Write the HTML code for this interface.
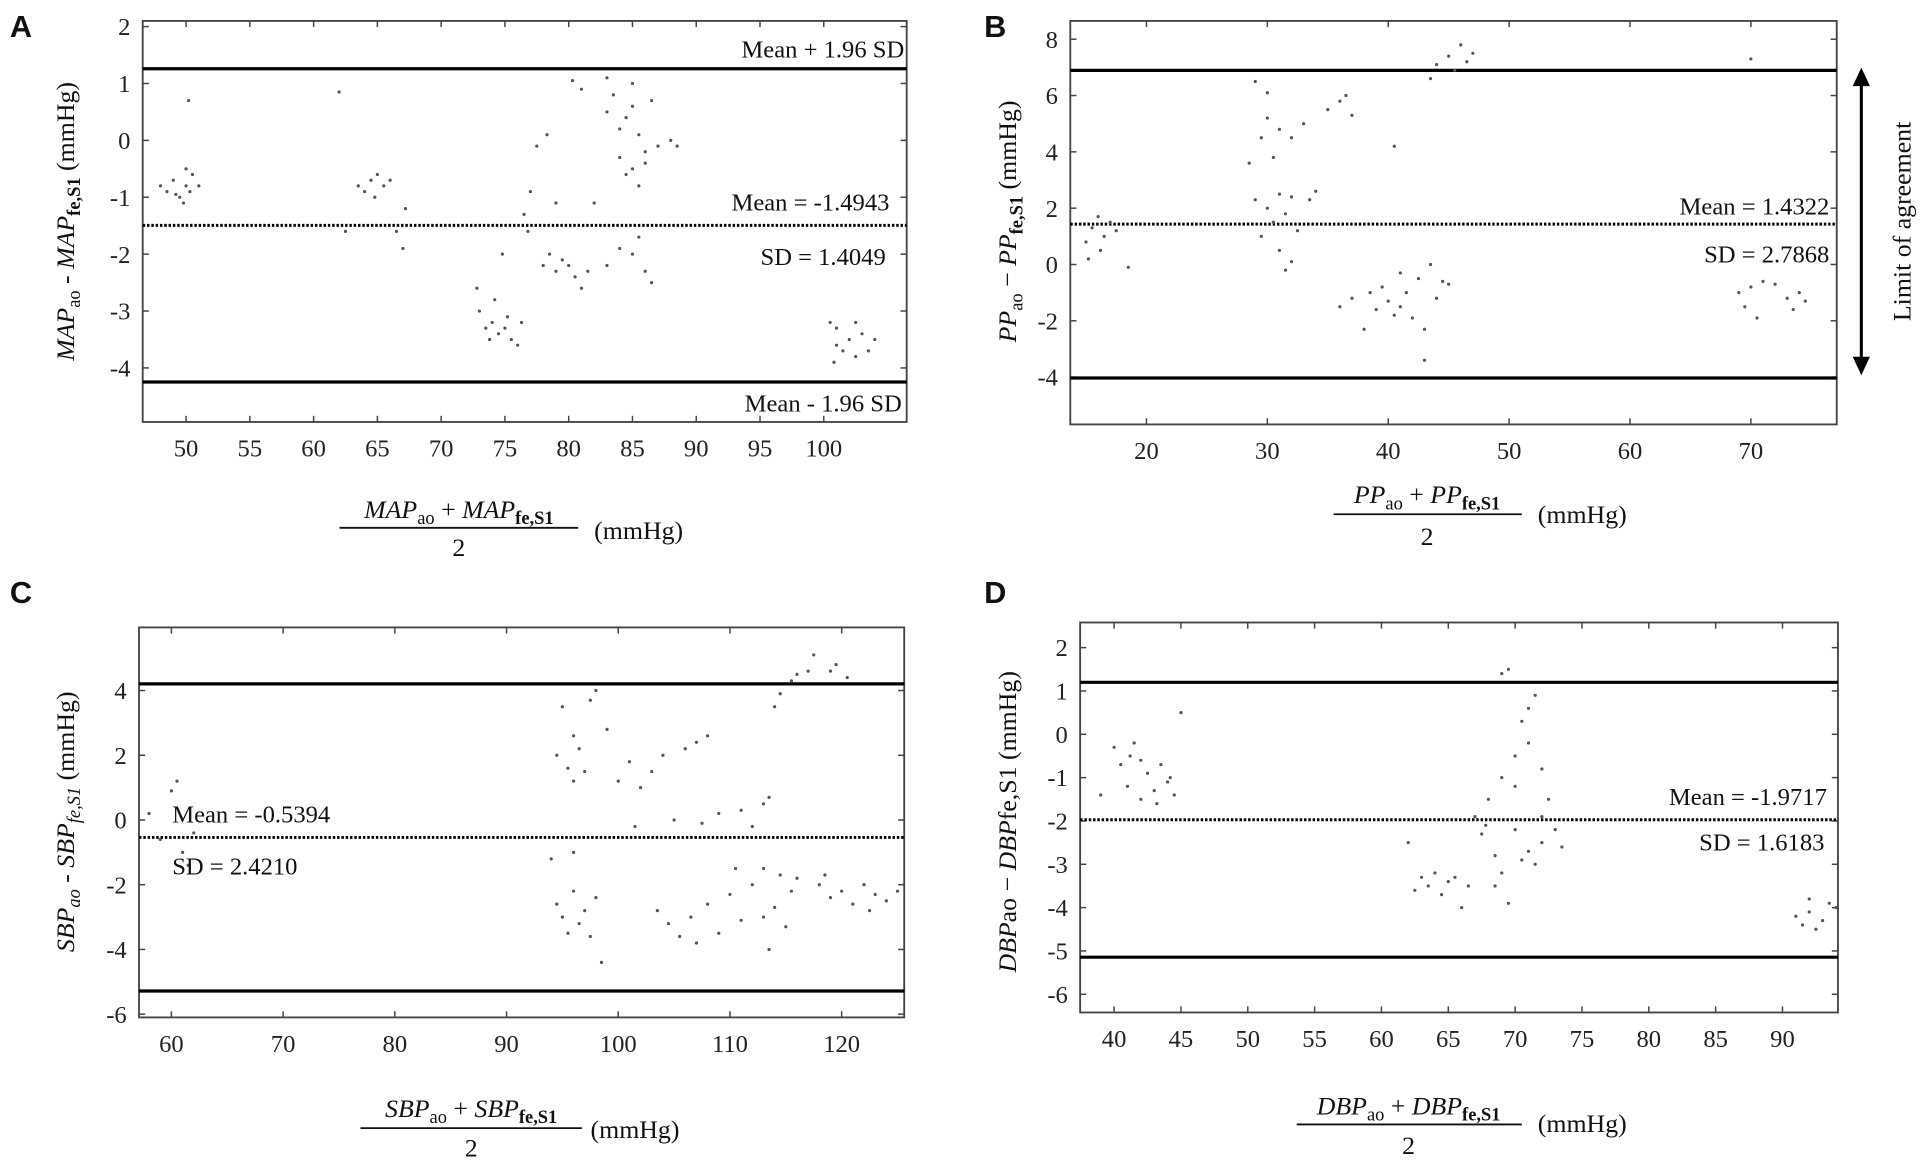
<!DOCTYPE html>
<html><head><meta charset="utf-8">
<style>
html,body{margin:0;padding:0;background:#fff;}
svg{display:block;}
.tk{font-family:"Liberation Serif",serif;font-size:20px;fill:#222;}
.ann{font-family:"Liberation Serif",serif;font-size:20px;fill:#111;}
.lab{font-family:"Liberation Serif",serif;font-size:21px;fill:#111;}
.pl{font-family:"Liberation Sans",sans-serif;font-size:25px;font-weight:bold;fill:#111;}
</style></head>
<body>
<svg id="fig" width="1929" height="1167" viewBox="0 0 1568 948.6" preserveAspectRatio="none" xmlns="http://www.w3.org/2000/svg">
<g id="static">
<text class="pl" x="8" y="30">A</text>
<text class="pl" x="800" y="30">B</text>
<text class="pl" x="8" y="490">C</text>
<text class="pl" x="800" y="490">D</text>

<text class="lab" transform="translate(60,180) rotate(-90)" text-anchor="middle"><tspan font-style="italic">MAP</tspan><tspan font-size="15" dy="5">ao</tspan><tspan dy="-5"> - </tspan><tspan font-style="italic">MAP</tspan><tspan font-size="15" dy="5" font-weight="bold">fe,S1</tspan><tspan dy="-5"> (mmHg)</tspan></text>
<text class="lab" transform="translate(826,180) rotate(-90)" text-anchor="middle"><tspan font-style="italic">PP</tspan><tspan font-size="15" dy="5">ao</tspan><tspan dy="-5"> − </tspan><tspan font-style="italic">PP</tspan><tspan font-size="15" dy="5" font-weight="bold">fe,S1</tspan><tspan dy="-5"> (mmHg)</tspan></text>
<text class="lab" transform="translate(60,668) rotate(-90)" text-anchor="middle"><tspan font-style="italic">SBP</tspan><tspan font-size="15" dy="5" font-style="italic">ao</tspan><tspan dy="-5"> - </tspan><tspan font-style="italic">SBP</tspan><tspan font-size="15" dy="5" font-style="italic">fe,S1</tspan><tspan dy="-5"> (mmHg)</tspan></text>
<text class="lab" transform="translate(826,668) rotate(-90)" text-anchor="middle"><tspan font-style="italic">DBP</tspan><tspan>ao − </tspan><tspan font-style="italic">DBP</tspan><tspan>fe,S1 (mmHg)</tspan></text>

<g>
<text class="lab" x="373" y="421" text-anchor="middle" font-size="22"><tspan font-style="italic">MAP</tspan><tspan font-size="15" dy="5">ao</tspan><tspan dy="-5"> + </tspan><tspan font-style="italic">MAP</tspan><tspan font-size="15" dy="5" font-weight="bold">fe,S1</tspan></text>
<line x1="276" y1="429" x2="470" y2="429" stroke="#111" stroke-width="1.5"/>
<text class="lab" x="373" y="452" text-anchor="middle">2</text>
<text class="lab" x="483" y="438">(mmHg)</text></g>
<g>
<text class="lab" x="1160" y="409" text-anchor="middle" font-size="22"><tspan font-style="italic">PP</tspan><tspan font-size="15" dy="5">ao</tspan><tspan dy="-5"> + </tspan><tspan font-style="italic">PP</tspan><tspan font-size="15" dy="5" font-weight="bold">fe,S1</tspan></text>
<line x1="1084" y1="418" x2="1237" y2="418" stroke="#111" stroke-width="1.5"/>
<text class="lab" x="1160" y="443" text-anchor="middle">2</text>
<text class="lab" x="1250" y="425">(mmHg)</text></g>
<g>
<text class="lab" x="383" y="908" text-anchor="middle" font-size="22"><tspan font-style="italic">SBP</tspan><tspan font-size="15" dy="5">ao</tspan><tspan dy="-5"> + </tspan><tspan font-style="italic">SBP</tspan><tspan font-size="15" dy="5" font-weight="bold">fe,S1</tspan></text>
<line x1="293" y1="917" x2="473" y2="917" stroke="#111" stroke-width="1.5"/>
<text class="lab" x="383" y="940" text-anchor="middle">2</text>
<text class="lab" x="480" y="925">(mmHg)</text></g>
<g>
<text class="lab" x="1145" y="906" text-anchor="middle" font-size="22"><tspan font-style="italic">DBP</tspan><tspan font-size="15" dy="5">ao</tspan><tspan dy="-5"> + </tspan><tspan font-style="italic">DBP</tspan><tspan font-size="15" dy="5" font-weight="bold">fe,S1</tspan></text>
<line x1="1054" y1="914" x2="1237" y2="914" stroke="#111" stroke-width="1.5"/>
<text class="lab" x="1145" y="938" text-anchor="middle">2</text>
<text class="lab" x="1250" y="920">(mmHg)</text></g>

<g>
<line x1="1513" y1="66" x2="1513" y2="294" stroke="#000" stroke-width="2.5"/>
<polygon points="1513,55 1506,70 1520,70" fill="#000"/>
<polygon points="1513,305 1506,290 1520,290" fill="#000"/>
<text class="lab" transform="translate(1553,180) rotate(-90)" text-anchor="middle">Limit of agreement</text>
</g>
</g>
</svg>
<script>
// Panel A data
const aX=[48.5,49,49.5,50,50,50.5,49.8,50.3,51,50.2,48,49.2,62,62.5,63.5,64,64.5,65,65.5,66,64.8,66.5,67,67.2,72.8,73,73.5,74,74.5,75,75.5,76,74.2,75.2,73.8,74.8,76.3,76.5,77,77.5,76.8,78,78.5,79,79.5,80,80.5,81,81.5,79,78.3,80.3,81,82,83,83.5,84,84.5,85,85.5,86,84,85,86,87,88,88.5,83,85,86.5,84.5,85.5,83,84,85,86,86.5,85.5,100.5,101,101.5,102,102.5,103,103.5,101,102.5,104,100.8];
const aY=[-0.9,-0.7,-1.0,-0.5,-0.8,-0.6,-1.1,-0.9,-0.8,0.7,-0.8,-0.95,0.85,-1.6,-0.8,-0.9,-0.7,-0.6,-0.8,-0.7,-1.0,-1.6,-1.9,-1.2,-2.6,-3.0,-3.3,-3.2,-3.4,-3.3,-3.5,-3.6,-2.8,-3.1,-3.5,-2.0,-3.2,-1.3,-0.9,-0.1,-1.6,-2.2,-2.0,-2.3,-2.1,-2.2,-2.4,-2.6,-2.3,-1.1,0.1,1.05,0.9,-1.1,0.5,0.8,0.2,0.4,0.6,0.1,-0.2,-0.3,-0.5,-0.4,-0.1,0.0,-0.1,1.1,1.0,0.7,-0.6,-0.8,-2.2,-1.9,-2.0,-2.3,-2.5,-1.7,-3.2,-3.6,-3.7,-3.5,-3.8,-3.4,-3.7,-3.3,-3.2,-3.5,-3.9];
const aXTicks=[50,55,60,65,70,75,80,85,90,95,100];
const aYTicks=[2,1,0,-1,-2,-3,-4];
const aStats=[-1.4943,1.4049];
// Panel B data
const bX=[15,15.5,16,16.5,17,15.2,16.2,17.5,18.5,28.5,29,29.5,30,30.5,29,30,30.5,31,31.5,32,31,31.5,32,32.5,31,32,33,33.5,34,30,29.5,35,36,37,36.5,36,37,38,38.5,39,39.5,40,40.5,41,41.5,42,42.5,43,43.5,44,44.5,45,43,40.5,41,43.5,44,45,46,46.5,47,45.5,69,69.5,70,70.5,71,72,73,73.5,74,74.5,70];
const bY=[0.8,1.3,1.7,1.0,1.5,0.2,0.5,1.2,-0.1,3.6,6.5,4.5,5.2,3.8,2.3,2.0,1.5,2.5,1.8,2.4,0.5,-0.2,0.1,1.2,4.8,4.5,5.0,2.3,2.6,6.1,1.0,5.5,5.8,5.3,6.0,-1.5,-1.2,-2.3,-1.0,-1.6,-0.8,-1.3,-1.8,-1.5,-1.0,-1.9,-0.5,-2.3,0.0,-1.2,-0.6,-0.7,-3.4,4.2,-0.3,6.6,7.1,7.4,7.8,7.2,7.5,6.9,-1.0,-1.5,-0.8,-1.9,-0.6,-0.7,-1.2,-1.6,-1.0,-1.3,7.3];
const bXTicks=[20,30,40,50,60,70];
const bYTicks=[8,6,4,2,0,-2,-4];
const bStats=[1.4322,2.7868];
// Panel C data
const cX=[58,59,60,60.5,61,61.5,62,94.5,95.5,96,96.5,97,97.5,98,95,96,94.5,95,95.5,96,96.5,97,97.5,98,98.5,96,94,99,100,101,102,103,101.5,104,105,106,107,108,107.5,109,111,112,113,113.5,114,114.5,103.5,104.5,105.5,106.5,107,108,109,110,110.5,111,112,113,113.5,114,114.5,115,115.5,116,113,115.5,116,117,117.5,119,119.5,120.5,118,119,120,121,122,122.5,123,124,125,126,118.5];
const cY=[0.2,-0.6,0.9,1.2,-1.0,-1.4,-0.4,2.0,1.6,1.2,2.2,1.5,3.7,4.0,3.5,2.6,-2.6,-3.0,-3.5,-2.2,-3.2,-2.8,-3.6,-2.4,-4.4,-1.0,-1.2,2.8,1.2,1.8,1.0,1.5,-0.2,2.0,0.0,2.2,2.4,2.6,-0.1,0.2,0.3,-0.2,0.5,0.7,3.5,3.9,-2.8,-3.2,-3.6,-3.0,-3.8,-2.6,-3.5,-2.3,-1.5,-3.1,-2.0,-3.0,-4.0,-2.7,-1.7,-3.3,-2.2,-1.8,-1.5,4.3,4.5,4.6,5.1,4.6,4.8,4.4,-2.0,-2.4,-2.2,-2.6,-2.0,-2.8,-2.3,-2.5,-2.2,-1.4,-1.7];
const cXTicks=[60,70,80,90,100,110,120];
const cYTicks=[4,2,0,-2,-4,-6];
const cStats=[-0.5394,2.4210];
// Panel D data
const dX=[39,40,40.5,41,41.5,42,42,42.5,43,43.5,44,44.5,45,44.2,43.2,41.2,62,62.5,63,63.5,64,64.5,65,65.5,66,66.5,67,67.5,68,68.5,69,69,69.5,70,70.5,71,71,71.5,70,72,72.5,73,70.5,71,71.5,72,68.5,69.5,70,72,73.5,67.8,69,91,91.5,92,92.5,93,93.5,94,94.5,92];
const dY=[-1.4,-0.3,-0.7,-1.2,-0.2,-0.6,-1.5,-0.9,-1.3,-0.7,-1.1,-1.4,0.5,-1.0,-1.6,-0.5,-2.5,-3.6,-3.3,-3.5,-3.2,-3.7,-3.4,-3.3,-4.0,-3.5,-1.9,-2.3,-1.5,-2.8,-3.2,1.4,1.5,-0.5,0.3,0.6,-0.2,0.9,-1.2,-0.8,-1.5,-2.2,-2.9,-2.7,-3.0,-2.5,-3.5,-3.9,-2.2,-1.9,-2.6,-2.1,-1.0,-4.2,-4.4,-4.1,-4.5,-4.3,-3.9,-4.0,-3.6,-3.8];
const dXTicks=[40,45,50,55,60,65,70,75,80,85,90];
const dYTicks=[2,1,0,-1,-2,-3,-4,-5,-6];
const dStats=[-1.9717,1.6183];

const NS='http://www.w3.org/2000/svg';
const fig=document.getElementById('fig');
function mk(tag,attrs,parent){const e=document.createElementNS(NS,tag);for(const k in attrs)e.setAttribute(k,attrs[k]);parent.appendChild(e);return e;}

function panel(id,box,xd,yd,xs,ys,xt,yt,stats,ann){
  const g=mk('g',{},fig);
  
  
  const [L,T,R,B]=box;
  const sx=v=>L+(v-xd[0])/(xd[1]-xd[0])*(R-L);
  const sy=v=>T+(yd[1]-v)/(yd[1]-yd[0])*(B-T);
  const fr=mk('rect',{x:L,y:T,width:R-L,height:B-T,fill:'none',stroke:'#444','stroke-width':1.5},g);
  
  
  xt.forEach(v=>{const x=sx(v);
    mk('line',{x1:x,y1:B,x2:x,y2:B-5,stroke:'#444','stroke-width':1.2},g);
    mk('line',{x1:x,y1:T,x2:x,y2:T+5,stroke:'#444','stroke-width':1.2},g);
    const t=mk('text',{x:x,y:B+28,'text-anchor':'middle',class:'tk'},g);t.textContent=v;
    
    });
  yt.forEach(v=>{const y=sy(v);
    mk('line',{x1:L,y1:y,x2:L+5,y2:y,stroke:'#444','stroke-width':1.2},g);
    mk('line',{x1:R,y1:y,x2:R-5,y2:y,stroke:'#444','stroke-width':1.2},g);
    const t=mk('text',{x:L-10,y:y+7,'text-anchor':'end',class:'tk'},g);t.textContent=v;
    
    });
  const m=stats[0],s=stats[1];
  const up=m+1.96*s,lo=m-1.96*s;
  const l1=mk('line',{x1:L,x2:R,y1:sy(up),y2:sy(up),stroke:'#000','stroke-width':2.6},g);
  
  
  const l2=mk('line',{x1:L,x2:R,y1:sy(lo),y2:sy(lo),stroke:'#000','stroke-width':2.6},g);
  
  
  const l3=mk('line',{x1:L,x2:R,y1:sy(m),y2:sy(m),stroke:'#000','stroke-width':2.4,'stroke-dasharray':'2,1.5'},g);
  
  
  xs.forEach((xv,i)=>{const yv=ys[i];
    if(xv<xd[0]||xv>xd[1])return;
    const c=mk('circle',{cx:sx(xv),cy:sy(yv),r:1.3,fill:'#555'},g);
    
    });
  ann.forEach(a=>{const t=mk('text',{x:a[1],y:(a[3]==='mean'?sy(m):a[3]==='up'?sy(up):sy(lo))+a[2],'text-anchor':a[4],class:'ann'},g);
    t.textContent=a[0];
    
    });
}
panel('a',[116,17,737,343],[46.6,106.5],[-4.95,2.1],aX,aY,aXTicks,aYTicks,aStats,
 [['Mean + 1.96 SD',735,-9,'up','end'],['Mean = -1.4943',723,-12,'mean','end'],['SD = 1.4049',720,32,'mean','end'],['Mean - 1.96 SD',733,24,'lo','end']]);
panel('b',[870,17,1493,345],[13.7,77.1],[-5.68,8.65],bX,bY,bXTicks,bYTicks,bStats,
 [['Mean = 1.4322',1487,-8,'mean','end'],['SD = 2.7868',1487,31,'mean','end']]);
panel('c',[113,510,735,827],[57.1,125.6],[-6.1,5.95],cX,cY,cXTicks,cYTicks,cStats,
 [['Mean = -0.5394',140,-12,'mean','start'],['SD = 2.4210',140,30,'mean','start']]);
panel('d',[878,506,1494,823],[37.46,94.15],[-6.42,2.58],dX,dY,dXTicks,dYTicks,dStats,
 [['Mean = -1.9717',1485,-12,'mean','end'],['SD = 1.6183',1483,25,'mean','end']]);
</script>
</body></html>
